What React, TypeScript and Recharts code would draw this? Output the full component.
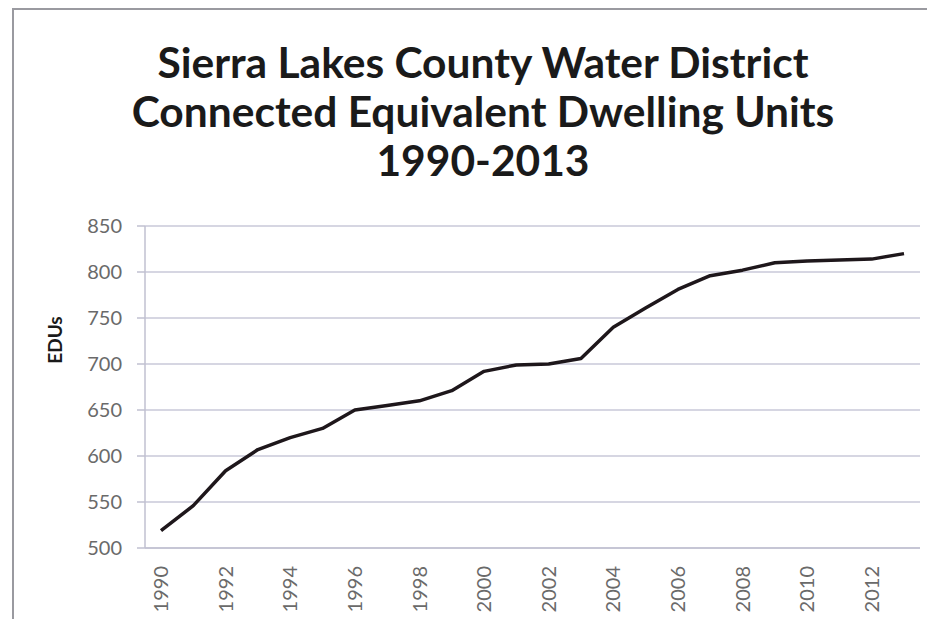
import React from "react";
import { LineChart, Line, XAxis, YAxis, CartesianGrid } from "recharts";

const years = ["1990","1991","1992","1993","1994","1995","1996","1997","1998","1999","2000","2001","2002","2003","2004","2005","2006","2007","2008","2009","2010","2011","2012","2013"];
const edus = [519, 546, 584, 607, 620, 630, 650, 655, 660, 671, 692, 699, 700, 706, 740, 761, 781, 796, 802, 810, 812, 813, 814, 820];
const yTicks = [500, 550, 600, 650, 700, 750, 800, 850];
const titleLines = ["Sierra Lakes County Water District", "Connected Equivalent Dwelling Units", "1990-2013"];
const yLabel = "EDUs";

const data = years.map((y, i) => ({ year: y, edus: edus[i] }));

const FONT = "Lato, 'Open Sans', sans-serif";

const YLabel = (props: any) => {
  const vb = props.viewBox || {};
  const x = 54;
  const y = vb.y + vb.height / 2 - 47;
  return (
    <text x={x} y={y} transform={`rotate(-90 ${x} ${y})`} textAnchor="middle" dominantBaseline="central"
      fontFamily={FONT} fontWeight={700} fontSize={19} fill="#1a1a1a">{yLabel}</text>
  );
};

export default function App() {
  return (
    <div style={{ position: "relative", width: 935, height: 627, margin: -8, overflow: "hidden", background: "#fff" }}>
      <div style={{ position: "absolute", left: 12, top: 8, width: 1000, height: 1000, borderLeft: "2px solid #9a9aa0", borderTop: "2px solid #9a9aa0" }} />
      {titleLines.map((t, i) => (
        <div key={i} style={{ position: "absolute", left: 0, width: 966, top: 37 + i * 49, textAlign: "center", fontFamily: FONT, fontWeight: 700, fontSize: 42.5, lineHeight: "50px", color: "#1a1a1a" }}>{t}</div>
      ))}
      <div style={{ position: "absolute", left: 0, top: 0 }}>
        <LineChart width={935} height={627} data={data} margin={{ top: 226, right: 15, left: 85, bottom: 29 }}>
          <CartesianGrid vertical={false} stroke="#c8c8d8" strokeWidth={1.5} />
          <XAxis dataKey="year" interval={1} tickLine={false} axisLine={{ stroke: "#c0c0d0", strokeWidth: 1.5 }}
            padding={{ left: 16, right: 16 }}
            height={50} angle={-90} textAnchor="end" dx={-7} dy={0} tickMargin={12}
            tick={{ fontFamily: FONT, fontSize: 20, fill: "#6a6a6a" }} />
          <YAxis domain={[500, 850]} ticks={yTicks} width={60} tickSize={8} tickMargin={15}
            axisLine={{ stroke: "#c0c0d0", strokeWidth: 1.5 }} tickLine={{ stroke: "#c0c0d0", strokeWidth: 1.5 }}
            tick={{ fontFamily: FONT, fontSize: 20, fill: "#6a6a6a" }}
            label={<YLabel />} />
          <Line type="linear" dataKey="edus" stroke="#1e171b" strokeWidth={3.5} strokeLinejoin="round" dot={false} isAnimationActive={false} />
        </LineChart>
      </div>
    </div>
  );
}
